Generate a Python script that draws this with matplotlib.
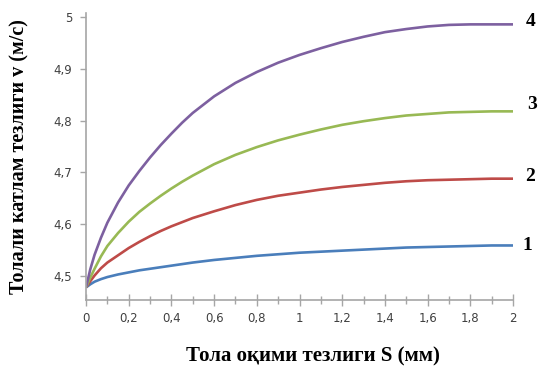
import matplotlib.pyplot as plt
from matplotlib.ticker import MultipleLocator, FuncFormatter

# flow speed S (mm)
s = [0, 0.02, 0.04, 0.07, 0.1, 0.15, 0.2, 0.25, 0.3, 0.35, 0.4, 0.45, 0.5, 0.6, 0.7,
     0.8, 0.9, 1.0, 1.1, 1.2, 1.3, 1.4, 1.5, 1.6, 1.7, 1.8, 1.9, 2.0]

# layer speed v (m/s) for the four cases
v1 = [4.478, 4.484, 4.489, 4.494, 4.498, 4.503, 4.507, 4.511, 4.514, 4.517, 4.520,
      4.523, 4.526, 4.531, 4.535, 4.539, 4.542, 4.545, 4.547, 4.549, 4.551, 4.553,
      4.555, 4.556, 4.557, 4.558, 4.559, 4.559]
v2 = [4.478, 4.490, 4.501, 4.515, 4.526, 4.540, 4.554, 4.566, 4.577, 4.587, 4.596,
      4.604, 4.612, 4.625, 4.637, 4.647, 4.655, 4.661, 4.667, 4.672, 4.676, 4.680,
      4.683, 4.685, 4.686, 4.687, 4.688, 4.688]
v3 = [4.478, 4.497, 4.514, 4.538, 4.558, 4.583, 4.605, 4.624, 4.640, 4.655, 4.669,
      4.682, 4.694, 4.716, 4.734, 4.749, 4.762, 4.773, 4.783, 4.792, 4.799, 4.805,
      4.810, 4.813, 4.816, 4.817, 4.818, 4.818]
v4 = [4.478, 4.513, 4.541, 4.574, 4.603, 4.642, 4.675, 4.703, 4.729, 4.753, 4.775,
      4.796, 4.815, 4.847, 4.873, 4.894, 4.912, 4.927, 4.940, 4.952, 4.962, 4.971,
      4.977, 4.982, 4.985, 4.986, 4.986, 4.986]

series = [v1, v2, v3, v4]
names = ['1', '2', '3', '4']
colors = ['#4A7EBB', '#BE4B48', '#98B954', '#7D60A0']
label_dx = [6.5, 9, 10, 9]
label_dy = [0, 1.5, 5, 2]

fig = plt.figure(figsize=(5.39, 3.67), dpi=100)
ax = fig.add_axes([0.1596, 0.1826, 0.7922, 0.782])

for v, c, n, dx, dy in zip(series, colors, names, label_dx, label_dy):
    ax.plot(s, v, color=c, linewidth=1.9, solid_capstyle='butt')
    ax.annotate(n, xy=(s[-1], v[-1]), xytext=(dx, dy), textcoords='offset points',
                ha='left', va='center', fontsize=14, fontweight='bold',
                family='Liberation Serif', color='black', annotation_clip=False)

ax.set_xlim(0, 2)
ax.set_ylim(4.4537, 5.008)

comma = FuncFormatter(lambda x, pos: ('%g' % round(x, 2)).replace('.', ','))
ax.xaxis.set_major_locator(MultipleLocator(0.2))
ax.xaxis.set_minor_locator(MultipleLocator(0.1))
ax.yaxis.set_major_locator(MultipleLocator(0.1))
ax.xaxis.set_major_formatter(comma)
ax.yaxis.set_major_formatter(comma)

for side in ['top', 'right']:
    ax.spines[side].set_visible(False)
for side in ['left', 'bottom']:
    ax.spines[side].set_color('#A6A6A6')
    ax.spines[side].set_linewidth(1.2)

ax.tick_params(axis='x', which='major', direction='inout', length=8, width=1,
               color='#A6A6A6', labelsize=8.5, labelcolor='#404040', pad=5)
ax.tick_params(axis='x', which='minor', direction='inout', length=6, width=1,
               color='#A6A6A6')
ax.tick_params(axis='y', which='major', direction='out', length=4, width=1,
               color='#A6A6A6', labelsize=8.5, labelcolor='#404040', pad=6)

ax.set_xlabel('Тола оқими тезлиги S (мм)', family='Liberation Serif',
              fontsize=15, fontweight='bold')
ax.xaxis.set_label_coords(0.532, -0.163)
ax.set_ylabel('Толали катлам тезлиги v (м/с)', family='Liberation Serif',
              fontsize=14.5, fontweight='bold', labelpad=17)

fig.savefig('out.png', dpi=100)
